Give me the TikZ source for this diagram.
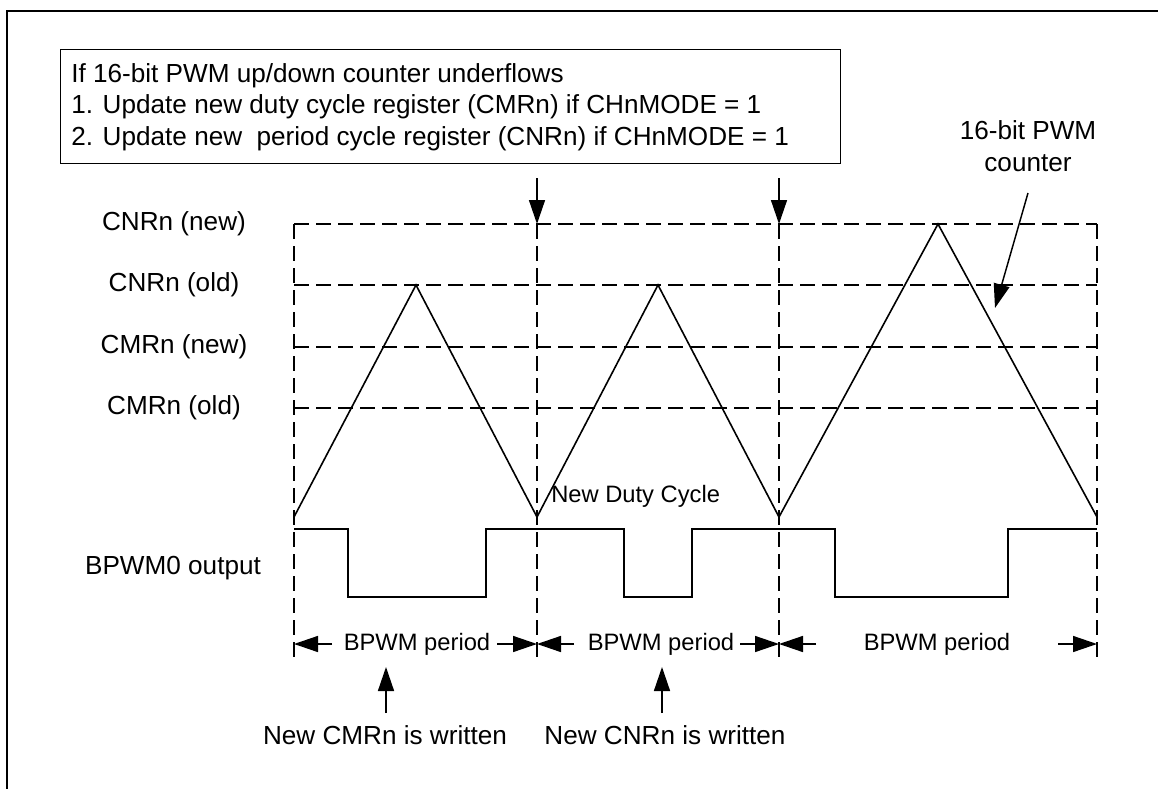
\documentclass[tikz,border=0pt]{standalone}
\usepackage{fontspec}
\setmainfont{Liberation Sans}
\usetikzlibrary{arrows.meta}
\begin{document}
\begin{tikzpicture}[x=0.75pt,y=-0.75pt,
  dline/.style={dash pattern=on 11pt off 5.5pt, line width=1.1pt},
  sig/.style={line width=1.2pt, line join=miter},
  tipline/.style={-{Triangle[length=18pt,width=12pt]}, line width=1.1pt},
  bigtxt/.style={font=\fontsize{19.6}{23.6}\selectfont, inner sep=0pt},
  smalltxt/.style={font=\fontsize{17.8}{23.6}\selectfont, inner sep=0pt}]
\useasboundingbox (0,0) rectangle (1158,789);
% outer frame (cropped)
\draw[line width=1.6pt] (7,789) -- (7,11) -- (1158,11);
% text box
\node[draw, line width=0.8pt, anchor=north west, minimum width=585pt, minimum height=85.5pt, inner sep=0pt] (box) at (60,49) {};
\node[bigtxt, anchor=west, align=left] (boxtext) at (71,107) {If 16-bit PWM up/down counter underflows\\1. Update new duty cycle register (CMRn) if CHnMODE = 1\\2. Update new\ \ period cycle register (CNRn) if CHnMODE = 1};
% left labels
\node[bigtxt] (lcnrnew) at (174,224) {CNRn (new)};
\node[bigtxt] (lcnrold) at (174,285) {CNRn (old)};
\node[bigtxt] (lcmrnew) at (174,347) {CMRn (new)};
\node[bigtxt] (lcmrold) at (174,408) {CMRn (old)};
\node[bigtxt] (lout) at (173,568) {BPWM0 output};
% dashed grid
\foreach \y in {224,285,347,408} \draw[dline] (294,\y) -- (1097,\y);
\foreach \x in {294,537,779,1097} \draw[dline] (\x,224) -- (\x,657);
% triangle counter
\draw[sig] (294,517) -- (416,285) -- (537,517) -- (658,285) -- (779,517) -- (938,224) -- (1097,517);
% PWM output
\draw[sig] (294,529) -- (348,529) -- (348,597) -- (486,597) -- (486,529) -- (624,529) -- (624,597) -- (692,597) -- (692,529) -- (835,529) -- (835,597) -- (1008,597) -- (1008,529) -- (1097,529);
% underflow arrows
\coordinate (d1s) at (537,178); \coordinate (d1e) at (537,224);
\coordinate (d2s) at (779,178); \coordinate (d2e) at (779,224);
\draw[tipline] (d1s) -- (d1e);
\draw[tipline] (d2s) -- (d2e);
% counter label
\node[bigtxt, align=center] (cnt) at (1028,146) {16-bit PWM\\counter};
\coordinate (cs) at (1028,193); \coordinate (ce) at (995,308);
\draw[tipline] (cs) -- (ce);
% new duty cycle
\node[smalltxt, anchor=base west] (ndc) at (551,502) {New Duty Cycle};
% period labels
\node[smalltxt] (p1) at (417,644) {BPWM period};
\node[smalltxt] (p2) at (661,644) {BPWM period};
\node[smalltxt] (p3) at (937,644) {BPWM period};
\coordinate (a0) at (294,644); \coordinate (a1) at (537,644);
\coordinate (a2) at (779,644); \coordinate (a3) at (1097,644);
\coordinate (p1l) at (332,644); \coordinate (p1r) at (497,644);
\coordinate (p2l) at (574,644); \coordinate (p2r) at (740,644);
\coordinate (p3l) at (816,644); \coordinate (p3r) at (1058,644);
\draw[tipline] (p1l) -- (a0);
\draw[tipline] (p1r) -- (a1);
\draw[tipline] (p2l) -- (a1);
\draw[tipline] (p2r) -- (a2);
\draw[tipline] (p3l) -- (a2);
\draw[tipline] (p3r) -- (a3);
% write arrows
\coordinate (u1s) at (386,713); \coordinate (u1e) at (386,667);
\coordinate (u2s) at (662,713); \coordinate (u2e) at (662,667);
\draw[tipline] (u1s) -- (u1e);
\draw[tipline] (u2s) -- (u2e);
\node[bigtxt] (w1) at (385,735) {New CMRn is written};
\node[bigtxt] (w2) at (665,735) {New CNRn is written};
\end{tikzpicture}
\end{document}
